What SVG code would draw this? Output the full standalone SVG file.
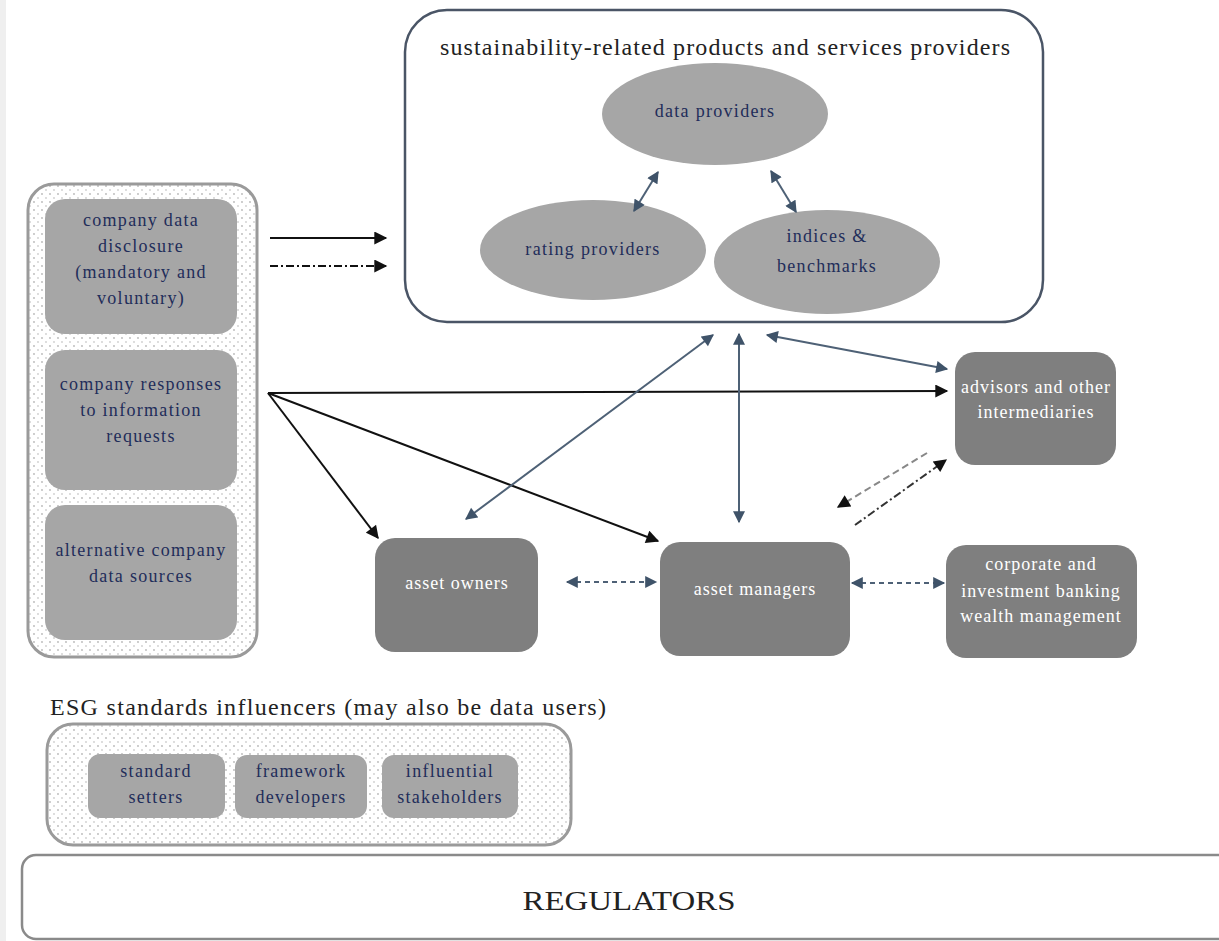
<svg xmlns="http://www.w3.org/2000/svg" width="1219" height="941" viewBox="0 0 1219 941">
<defs>
<pattern id="dots" width="8" height="8" patternUnits="userSpaceOnUse">
<rect width="8" height="8" fill="#ffffff"/>
<circle cx="2" cy="2" r="0.9" fill="#b8b8b8"/>
<circle cx="6" cy="6" r="0.9" fill="#cfcfcf"/>
</pattern>
<marker id="ab" viewBox="0 0 10 10" refX="9" refY="5" markerWidth="7.5" markerHeight="6.5" orient="auto-start-reverse" markerUnits="strokeWidth">
<path d="M0,0 L10,5 L0,10 z" fill="#111"/>
</marker>
<marker id="ag" viewBox="0 0 10 10" refX="9" refY="5" markerWidth="6.5" markerHeight="6" orient="auto-start-reverse" markerUnits="strokeWidth">
<path d="M0,0 L10,5 L0,10 z" fill="#3f5369"/>
</marker>
</defs>
<style>
.t{font-family:"Liberation Serif","DejaVu Serif",serif;text-anchor:middle}
.nv{fill:#1f2d5a;font-size:18px;letter-spacing:1.3px}
.wh{fill:#ffffff;font-size:18px;letter-spacing:1px}
.lb{fill:#222;font-size:24px}
.lt{fill:#a6a6a6}
.dk{fill:#7f7f7f}
.bl{stroke:#111;stroke-width:2;fill:none}
.gl{stroke:#4e6176;stroke-width:2;fill:none}
.cont{fill:url(#dots);stroke:#9a9a9a;stroke-width:3}
</style>
<rect x="0" y="0" width="1219" height="941" fill="#ffffff"/>
<rect x="0" y="0" width="6" height="941" fill="#efefef"/>

<g id="providers">
<rect x="405" y="10" width="638" height="312" rx="42" fill="#ffffff" stroke="#4a5566" stroke-width="2.5"/>
<text class="t lb" x="725" y="55" textLength="570" lengthAdjust="spacing">sustainability-related products and services providers</text>
</g>
<g id="data-providers">
<ellipse cx="715" cy="114" rx="113" ry="51" class="lt"/>
<text class="t nv" x="715" y="117">data providers</text>
</g>
<g id="rating-providers">
<ellipse cx="593" cy="250" rx="113" ry="50" class="lt"/>
<text class="t nv" x="593" y="255">rating providers</text>
</g>
<g id="indices">
<ellipse cx="827" cy="262" rx="113" ry="52" class="lt"/>
<text class="t nv" x="827" y="242">indices &amp;</text>
<text class="t nv" x="827" y="272">benchmarks</text>
</g>

<g id="company-sources">
<rect x="28" y="184" width="229" height="473" rx="26" class="cont"/>
</g>
<g id="company-disclosure">
<rect x="45" y="199" width="192" height="135" rx="20" class="lt"/>
<text class="t nv" x="141" y="226">company data</text>
<text class="t nv" x="141" y="252">disclosure</text>
<text class="t nv" x="141" y="278">(mandatory and</text>
<text class="t nv" x="141" y="304">voluntary)</text>
</g>
<g id="company-responses">
<rect x="45" y="350" width="192" height="140" rx="20" class="lt"/>
<text class="t nv" x="141" y="390">company responses</text>
<text class="t nv" x="141" y="416">to information</text>
<text class="t nv" x="141" y="442">requests</text>
</g>
<g id="alternative-sources">
<rect x="45" y="505" width="192" height="135" rx="20" class="lt"/>
<text class="t nv" x="141" y="556">alternative company</text>
<text class="t nv" x="141" y="582">data sources</text>
</g>

<g id="advisors">
<rect x="955" y="352" width="161" height="113" rx="20" class="dk"/>
<text class="t wh" x="1036" y="393">advisors and other</text>
<text class="t wh" x="1036" y="418">intermediaries</text>
</g>
<g id="asset-owners">
<rect x="375" y="538" width="163" height="114" rx="20" class="dk"/>
<text class="t wh" x="457" y="589">asset owners</text>
</g>
<g id="asset-managers">
<rect x="660" y="542" width="190" height="114" rx="20" class="dk"/>
<text class="t wh" x="755" y="595">asset managers</text>
</g>
<g id="banking">
<rect x="946" y="545" width="191" height="113" rx="20" class="dk"/>
<text class="t wh" x="1041" y="570">corporate and</text>
<text class="t wh" x="1041" y="597">investment banking</text>
<text class="t wh" x="1041" y="622">wealth management</text>
</g>

<g id="esg-label">
<text class="t lb" x="50" y="715" style="text-anchor:start" textLength="556" lengthAdjust="spacing">ESG standards influencers (may also be data users)</text>
</g>
<g id="esg-influencers">
<rect x="47" y="724" width="524" height="121" rx="26" class="cont"/>
</g>
<g id="standard-setters">
<rect x="88" y="754" width="137" height="64" rx="12" class="lt"/>
<text class="t nv" x="156" y="777">standard</text>
<text class="t nv" x="156" y="803">setters</text>
</g>
<g id="framework-developers">
<rect x="235" y="755" width="132" height="63" rx="12" class="lt"/>
<text class="t nv" x="301" y="777">framework</text>
<text class="t nv" x="301" y="803">developers</text>
</g>
<g id="influential-stakeholders">
<rect x="382" y="755" width="136" height="63" rx="12" class="lt"/>
<text class="t nv" x="450" y="777">influential</text>
<text class="t nv" x="450" y="803">stakeholders</text>
</g>

<g id="regulators">
<rect x="22" y="855" width="1210" height="84" rx="14" fill="#ffffff" stroke="#8a8a8a" stroke-width="2.5"/>
<text class="t" x="629" y="910" style="font-size:27px;fill:#222" textLength="213" lengthAdjust="spacingAndGlyphs">REGULATORS</text>
</g>

<g id="connectors">
<line x1="658" y1="172" x2="634" y2="211" class="gl" marker-start="url(#ag)" marker-end="url(#ag)"/>
<line x1="771" y1="171" x2="796" y2="212" class="gl" marker-start="url(#ag)" marker-end="url(#ag)"/>
<line x1="270" y1="238" x2="386" y2="238" class="bl" marker-end="url(#ab)"/>
<line x1="270" y1="266" x2="386" y2="266" class="bl" stroke-dasharray="8,3,2,3" marker-end="url(#ab)"/>
<line x1="268" y1="393" x2="947" y2="391" class="bl" marker-end="url(#ab)"/>
<line x1="268" y1="393" x2="378" y2="538" class="bl" marker-end="url(#ab)"/>
<line x1="268" y1="393" x2="658" y2="541" class="bl" marker-end="url(#ab)"/>
<line x1="466" y1="519" x2="713" y2="335" class="gl" marker-start="url(#ag)" marker-end="url(#ag)"/>
<line x1="739" y1="334" x2="739" y2="522" class="gl" marker-start="url(#ag)" marker-end="url(#ag)"/>
<line x1="767" y1="335" x2="947" y2="369" class="gl" marker-start="url(#ag)" marker-end="url(#ag)"/>
<line x1="927" y1="453" x2="838" y2="507" stroke="#888" stroke-width="2" stroke-dasharray="7,4" marker-end="url(#ab)"/>
<line x1="855" y1="525" x2="946" y2="460" stroke="#333" stroke-width="2" stroke-dasharray="8,3,2,3" marker-end="url(#ab)"/>
<line x1="567" y1="582" x2="656" y2="582" stroke="#4e6176" stroke-width="2" stroke-dasharray="5,4" marker-start="url(#ag)" marker-end="url(#ag)" fill="none"/>
<line x1="852" y1="583" x2="944" y2="583" stroke="#4e6176" stroke-width="2" stroke-dasharray="5,4" marker-start="url(#ag)" marker-end="url(#ag)" fill="none"/>
</g>
</svg>
